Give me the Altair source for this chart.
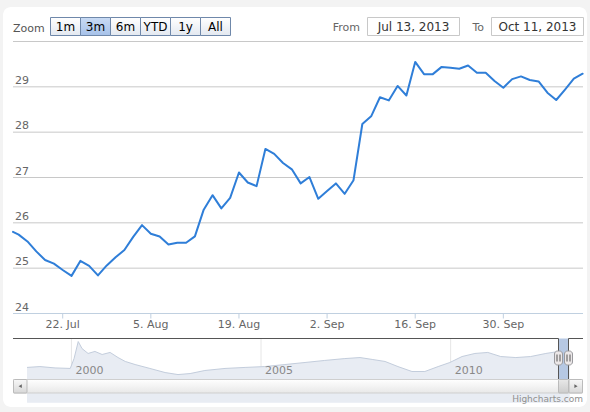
import altair as alt
import pandas as pd

# ---------------- data ----------------
dates = pd.bdate_range("2013-07-12", "2013-10-11")  # trading days shown (ordinal axis)
prices = [
    25.80, 25.74, 25.59, 25.37, 25.18, 25.10,
    24.96, 24.83, 25.16, 25.05, 24.84,
    25.06, 25.24, 25.40, 25.69, 25.95,
    25.76, 25.70, 25.52, 25.56, 25.56,
    25.70, 26.29, 26.61, 26.32, 26.55,
    27.11, 26.89, 26.81, 27.63, 27.52,
    27.32, 27.18, 26.87, 27.01, 26.53,
    26.70, 26.87, 26.64, 26.94, 28.18,
    28.35, 28.77, 28.70, 29.02, 28.81,
    29.55, 29.28, 29.28, 29.44, 29.42,
    29.40, 29.47, 29.31, 29.31, 29.13,
    28.98, 29.17, 29.23, 29.15, 29.12,
    28.87, 28.71, 28.94, 29.18, 29.29,
]
tick_dates = ["2013-07-22", "2013-08-05", "2013-08-19", "2013-09-02", "2013-09-16", "2013-09-30"]
tick_labels = ["22. Jul", "5. Aug", "19. Aug", "2. Sep", "16. Sep", "30. Sep"]
grid_values = [24, 25, 26, 27, 28, 29, 30]
label_values = [24, 25, 26, 27, 28, 29]

nav_years = [1998.83, 1999.17, 1999.57, 1999.97, 2000.07, 2000.18, 2000.28, 2000.44,
             2000.62, 2000.81, 2001.02, 2001.23, 2001.42, 2001.68, 2002.07, 2002.47,
             2002.81, 2003.13, 2003.52, 2004.05, 2004.58, 2005.10, 2005.63, 2006.16,
             2006.68, 2007.21, 2007.61, 2007.93, 2008.27, 2008.61, 2008.98, 2009.32,
             2009.67, 2009.98, 2010.30, 2010.64, 2010.98, 2011.32, 2011.72, 2012.11,
             2012.51, 2012.85, 2013.14]
nav_values = [20.8, 21.3, 20.5, 20.2, 26.0, 36.0, 31.9, 29.0,
              30.2, 28.4, 29.6, 26.6, 24.3, 22.5, 20.2, 17.8,
              16.6, 17.2, 19.0, 20.2, 20.8, 21.3, 22.5, 23.7,
              24.9, 26.0, 26.6, 25.5, 24.3, 21.3, 18.4, 18.4,
              21.3, 23.7, 27.2, 29.0, 29.6, 27.2, 26.6, 27.2,
              29.0, 30.2, 30.2]
nav_year_ticks = [2000, 2005, 2010]

buttons = ["1m", "3m", "6m", "YTD", "1y", "All"]
selected_button = "3m"
from_text = "Jul 13, 2013"
to_text = "Oct 11, 2013"

# ---------------- tables ----------------
main_df = pd.DataFrame({"i": list(range(len(dates))), "price": prices})
tick_df = pd.DataFrame({
    "i": [dates.get_loc(pd.Timestamp(d)) for d in tick_dates],
    "label": tick_labels,
})
grid_df = pd.DataFrame({"v": grid_values})
ylab_df = pd.DataFrame({"v": label_values, "label": [str(v) for v in label_values]})
nav_df = pd.DataFrame({"year": nav_years, "value": nav_values})
navtick_df = pd.DataFrame({"year": nav_year_ticks, "label": [str(y) for y in nav_year_ticks]})
one = pd.DataFrame({"a": [0]})

FONT = "DejaVu Sans"
XS = alt.Scale(domain=[0.36, 65.04], range=[13, 583], clamp=True, zero=False, nice=False)
YS = alt.Scale(domain=[24, 30], range=[313.5, 41.5], zero=False, nice=False)
NXS = alt.Scale(domain=[1998.46, 2013.49], range=[13, 583], zero=False, nice=False)
NYS = alt.Scale(domain=[14, 37.5], range=[379, 339], zero=False, nice=False)


def grad(c1, c2):
    return {"gradient": "linear", "x1": 0, "y1": 0, "x2": 0, "y2": 1,
            "stops": [{"offset": 0, "color": c1}, {"offset": 1, "color": c2}]}


def box(x1, x2, y1, y2, fill, stroke=None, sw=1, r=0):
    kw = {"fill": fill, "cornerRadius": r}
    if stroke:
        kw["stroke"] = stroke
        kw["strokeWidth"] = sw
    return alt.Chart(one).mark_rect(**kw).encode(
        x=alt.value(x1), x2=alt.value(x2), y=alt.value(y1), y2=alt.value(y2))


def line(x1, x2, y1, y2, color, sw=1):
    return alt.Chart(one).mark_rule(color=color, strokeWidth=sw).encode(
        x=alt.value(x1), x2=alt.value(x2), y=alt.value(y1), y2=alt.value(y2))


def label(s, x, y, size, color, align="left"):
    return alt.Chart(one).mark_text(
        font=FONT, fontSize=size, color=color, align=align, baseline="alphabetic"
    ).encode(x=alt.value(x), y=alt.value(y), text=alt.value(s))


layers = []
# white panel
layers.append(box(3, 587, 7, 407, "#ffffff", r=8))

# ---------------- range selector ----------------
layers.append(label("Zoom", 13, 31.5, 11, "#555555"))
for k, b in enumerate(buttons):
    x1 = 50 + 30 * k
    fill = grad("#c9dbf4", "#a6c1e9") if b == selected_button else grad("#ffffff", "#e3e8f0")
    layers.append(box(x1 + 0.5, x1 + 30.5, 17.5, 35.5, fill, stroke="#6f88aa"))
    layers.append(label(b, x1 + 15.5, 31, 12, "#000000", align="center"))

layers.append(label("From", 360, 31, 11, "#666666", align="right"))
layers.append(box(367.5, 459.5, 17.5, 35.5, "#ffffff", stroke="#c8c8c8"))
layers.append(label(from_text, 413.5, 31, 12, "#333333", align="center"))
layers.append(label("To", 484, 31, 11, "#666666", align="right"))
layers.append(box(491.5, 583.5, 17.5, 35.5, "#ffffff", stroke="#c8c8c8"))
layers.append(label(to_text, 537.5, 31, 12, "#333333", align="center"))

# ---------------- main plot ----------------
layers.append(alt.Chart(grid_df).mark_rule(color="#c8c8c8", strokeWidth=1).encode(
    y=alt.Y("v:Q", scale=YS, axis=None), x=alt.value(13), x2=alt.value(583)))
layers.append(alt.Chart(ylab_df).mark_text(
    font=FONT, fontSize=11, color="#666666", align="left", baseline="alphabetic", dx=0, dy=-3
).encode(y=alt.Y("v:Q", scale=YS, axis=None), x=alt.value(15), text="label:N"))
layers.append(line(13, 583, 313.5, 313.5, "#c0d0e0"))
layers.append(alt.Chart(tick_df).mark_rule(color="#c0d0e0", strokeWidth=1).encode(
    x=alt.X("i:Q", scale=XS, axis=None), y=alt.value(313.5), y2=alt.value(318.5)))
layers.append(alt.Chart(tick_df).mark_text(
    font=FONT, fontSize=11, color="#666666", align="center", baseline="alphabetic"
).encode(x=alt.X("i:Q", scale=XS, axis=None), y=alt.value(328), text="label:N"))
layers.append(alt.Chart(main_df).mark_line(
    color="#2f7ed8", strokeWidth=2, strokeJoin="round", strokeCap="round"
).encode(x=alt.X("i:Q", scale=XS, axis=None), y=alt.Y("price:Q", scale=YS, axis=None)))

# ---------------- navigator ----------------
layers.append(alt.Chart(navtick_df).mark_rule(color="#e6e6e6", strokeWidth=1).encode(
    x=alt.X("year:Q", scale=NXS, axis=None), y=alt.value(338.5), y2=alt.value(379)))
layers.append(alt.Chart(nav_df).mark_area(color="#e8ecf3", opacity=1).encode(
    x=alt.X("year:Q", scale=NXS, axis=None), y=alt.Y("value:Q", scale=NYS, axis=None),
    y2=alt.value(379)))
layers.append(alt.Chart(nav_df).mark_line(color="#c3cddc", strokeWidth=1).encode(
    x=alt.X("year:Q", scale=NXS, axis=None), y=alt.Y("value:Q", scale=NYS, axis=None)))
layers.append(alt.Chart(navtick_df).mark_text(
    font=FONT, fontSize=11, color="#888888", align="left", baseline="alphabetic", dx=4
).encode(x=alt.X("year:Q", scale=NXS, axis=None), y=alt.value(374), text="label:N"))

# selected window mask + outline
layers.append(box(558.5, 568.5, 338.5, 379, "#b6c8e3"))
layers.append(line(13, 558.5, 338.5, 338.5, "#555555"))
layers.append(line(558.5, 558.5, 338.5, 379, "#555555"))
layers.append(line(568.5, 568.5, 338.5, 379, "#555555"))
layers.append(line(568.5, 583, 338.5, 338.5, "#555555"))

# ---------------- scrollbar ----------------
layers.append(box(13.5, 582.5, 379.5, 393, grad("#ffffff", "#e8e8e8"), stroke="#cfcfcf"))
layers.append(box(13.5, 27, 379.5, 393, grad("#f8f8f8", "#d8d8d8"), stroke="#bbbbbb", r=1))
layers.append(box(569, 582.5, 379.5, 393, grad("#f8f8f8", "#d8d8d8"), stroke="#bbbbbb", r=1))
layers.append(box(558.5, 568.5, 379.5, 393, grad("#e8e8e8", "#cccccc"), stroke="#bbbbbb", r=1))
layers.append(alt.Chart(one).mark_point(shape="triangle-left", filled=True, color="#666666", size=14, opacity=1).encode(
    x=alt.value(20.2), y=alt.value(386.2)))
layers.append(alt.Chart(one).mark_point(shape="triangle-right", filled=True, color="#666666", size=14, opacity=1).encode(
    x=alt.value(576), y=alt.value(386.2)))

# handles
for hx in (558.5, 568.5):
    layers.append(box(hx - 4, hx + 4, 351, 365, "#ebe7e8", stroke="#9a9a9e", r=3))
    layers.append(line(hx - 1.5, hx - 1.5, 354.5, 361.5, "#555555"))
    layers.append(line(hx + 1.5, hx + 1.5, 354.5, 361.5, "#555555"))

# credits
layers.append(label("Highcharts.com", 583, 402, 9, "#909090", align="right"))

chart = alt.layer(*layers).resolve_scale(x="independent", y="independent").properties(
    width=590, height=412, autosize=alt.AutoSizeParams(type="none"), padding=0,
    background="#f3f3f3",
).configure_view(stroke=None)

chart.save("out.html", embed_options={"renderer": "svg", "actions": False})
